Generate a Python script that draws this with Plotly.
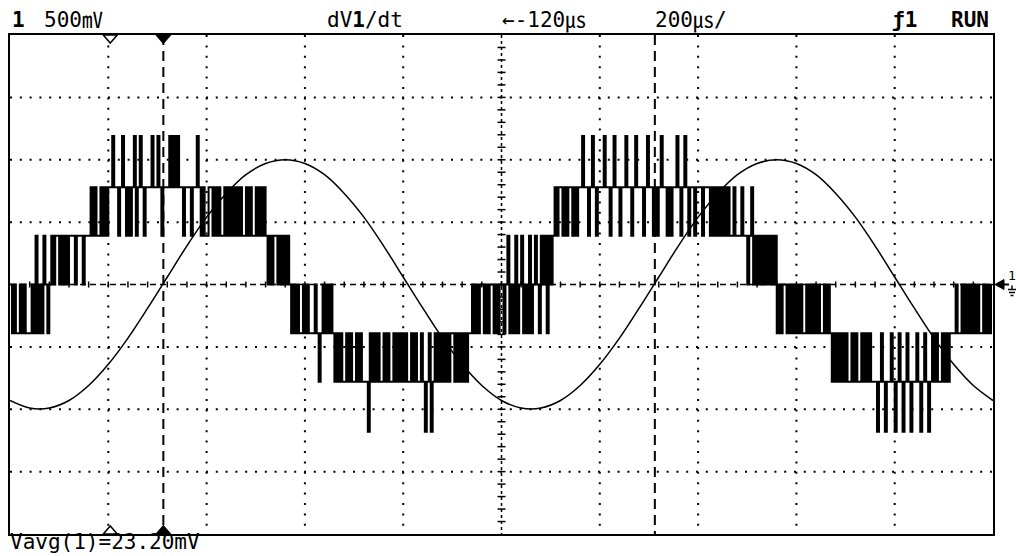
import numpy as np
import plotly.graph_objects as go

# ---- scope settings -------------------------------------------------------
T_DIV_US = 200.0            # time base (µs/div)
DELAY_US = -120.0           # time at screen centre (µs)
V_DIV = 0.5                 # channel 1 sensitivity (V/div)
N_XDIV, N_YDIV = 10, 8

T_LEFT = DELAY_US - N_XDIV / 2 * T_DIV_US      # -1120 µs
T_RIGHT = DELAY_US + N_XDIV / 2 * T_DIV_US     #   880 µs
V_TOP = N_YDIV / 2 * V_DIV
V_BOT = -V_TOP

# ---- channel 1 record: one code per 4 µs sample from the left edge ---------
SAMPLE_US = 4.0
# output level for codes '0'..'6'  (three steps below / above ground)
STEP_LEVELS_V = [-1.18, -0.78, -0.39, 0.0, 0.39, 0.78, 1.19]
CH1_CODES = [
    "3232232322", "2324232432", "3434434343", "4443444344", "4545445454",
    "5565545654", "5456456545", "5565565455", "5656565545", "5545565454",
    "4554545445", "4545454544", "5454454545", "4343443434", "3432323223",
    "2322232123", "2323212121", "1212112121", "1102121211", "2121121212",
    "1211212112", "1012012121", "2121221212", "1212232323", "3232332323",
    "3234232423", "4232423432", "4342434545", "5454554545", "5655456545",
    "5565545655", "4556554565", "5545655454", "5655454556", "5456545545",
    "5545554545", "4545454454", "4454434534", "3434343434", "2323323232",
    "3232232323", "2322323212", "1212121121", "2112121211", "1012101121",
    "0121012101", "1210121012", "1211212122", "2322323232", "3232232323",
]

# ---- dV1/dt math trace, one value per 40 µs from the left edge -------------
DVDT_STEP_US = 40.0
DVDT_V = [
    -0.93, -0.99, -0.99, -0.93, -0.81, -0.64, -0.43, -0.19, 0.06, 0.31,
    0.54, 0.73, 0.88, 0.97, 1.00, 0.97, 0.88, 0.73, 0.54, 0.31,
    0.06, -0.19, -0.43, -0.64, -0.81, -0.93, -0.99, -0.99, -0.93, -0.81,
    -0.64, -0.43, -0.19, 0.06, 0.31, 0.54, 0.73, 0.88, 0.97, 1.00,
    0.97, 0.88, 0.73, 0.54, 0.31, 0.06, -0.19, -0.43, -0.64, -0.81,
    -0.93,
]

# ---- markers ---------------------------------------------------------------
CURSOR_T_US = [-808.0, 192.0]     # time cursors (1 ms apart)
TRIG_MARK_T_US = -916.0           # hollow reference markers

# ---- page geometry ---------------------------------------------------------
W, H = 1016, 556
PL, PR, PT, PB = 10, 993, 35, 534          # plot box in pixels
US_PER_PX = (T_RIGHT - T_LEFT) / (PR - PL)
V_PER_PX = (V_TOP - V_BOT) / (PB - PT)


def xp(px):
    return (px - PL) / (PR - PL)


def yp(py):
    return (PB - py) / (PB - PT)


codes = "".join(CH1_CODES)
ch1_t = T_LEFT + SAMPLE_US * np.arange(len(codes))
ch1_v = [STEP_LEVELS_V[int(c)] for c in codes]
dvdt_t = T_LEFT + DVDT_STEP_US * np.arange(len(DVDT_V))

fig = go.Figure()
fig.add_trace(go.Scatter(
    x=ch1_t, y=ch1_v, mode="lines",
    line=dict(shape="hv", width=2, color="black"),
    hoverinfo="skip"))
fig.add_trace(go.Scatter(
    x=dvdt_t, y=DVDT_V, mode="lines",
    line=dict(shape="spline", smoothing=1.0, width=1.5, color="black"),
    hoverinfo="skip"))

shapes = []
BLK = "black"

# dotted graticule rows / columns
for k in range(1, N_YDIV // 2):
    for v in (k * V_DIV, -k * V_DIV):
        shapes.append(dict(type="line", xref="x", yref="y", layer="below",
                           x0=T_LEFT, x1=T_RIGHT, y0=v, y1=v,
                           line=dict(color=BLK, width=2, dash="2px,7.8px")))
for k in range(1, N_XDIV // 2):
    for t in (DELAY_US + k * T_DIV_US, DELAY_US - k * T_DIV_US):
        shapes.append(dict(type="line", xref="x", yref="y", layer="below",
                           x0=t, x1=t, y0=V_TOP, y1=V_BOT,
                           line=dict(color=BLK, width=2, dash="2px,8.4px")))

# centre axes with minor ticks
shapes.append(dict(type="line", xref="x", yref="y", layer="below",
                   x0=T_LEFT, x1=T_RIGHT, y0=0, y1=0,
                   line=dict(color=BLK, width=1.5, dash="6px,4px")))
shapes.append(dict(type="line", xref="x", yref="y", layer="below",
                   x0=DELAY_US, x1=DELAY_US, y0=V_TOP, y1=V_BOT,
                   line=dict(color=BLK, width=1.5, dash="3px,3px")))
for i in range(1, N_XDIV * 5):
    t = T_LEFT + i * T_DIV_US / 5
    shapes.append(dict(type="line", xref="x", yref="y", layer="below",
                       x0=t, x1=t, y0=-3 * V_PER_PX, y1=3 * V_PER_PX,
                       line=dict(color=BLK, width=1.5)))
for i in range(1, N_YDIV * 5):
    v = V_BOT + i * V_DIV / 5
    shapes.append(dict(type="line", xref="x", yref="y", layer="below",
                       x0=DELAY_US - 4 * US_PER_PX, x1=DELAY_US + 4 * US_PER_PX,
                       y0=v, y1=v, line=dict(color=BLK, width=1.5)))

# time cursors
for t in CURSOR_T_US:
    shapes.append(dict(type="line", xref="x", yref="y", layer="below",
                       x0=t, x1=t, y0=V_TOP, y1=V_BOT,
                       line=dict(color=BLK, width=2, dash="10px,6px")))


def tri(t, edge, down, filled):
    hw, hh = 7 * US_PER_PX, 8 * V_PER_PX
    tip = edge - hh if down else edge + hh
    path = f"M{t - hw},{edge} L{t + hw},{edge} L{t},{tip} Z"
    return dict(type="path", xref="x", yref="y", path=path,
                fillcolor=BLK if filled else "white",
                line=dict(color=BLK, width=1.5))


shapes.append(tri(CURSOR_T_US[0], V_TOP, True, True))
shapes.append(tri(CURSOR_T_US[0], V_BOT, False, True))
shapes.append(tri(TRIG_MARK_T_US, V_TOP, True, False))
shapes.append(tri(TRIG_MARK_T_US, V_BOT, False, False))

# channel 1 ground reference marker on the right edge
gy = yp(PB - (0 - V_BOT) / V_PER_PX)
ppy = 1 / (PB - PT)
shapes.append(dict(type="path", xref="paper", yref="paper",
                   path=(f"M{xp(995)},{gy} L{xp(1004)},{gy + 5 * ppy} "
                         f"L{xp(1004)},{gy - 5 * ppy} Z"),
                   fillcolor=BLK, line=dict(color=BLK, width=1)))
shapes.append(dict(type="line", xref="paper", yref="paper",
                   x0=xp(1003), x1=xp(1009), y0=gy, y1=gy,
                   line=dict(color=BLK, width=2)))
for dy, half in ((5, 4), (8, 3), (11, 1.5)):
    shapes.append(dict(type="line", xref="paper", yref="paper",
                       x0=xp(1012 - half), x1=xp(1012 + half),
                       y0=gy - dy * ppy, y1=gy - dy * ppy,
                       line=dict(color=BLK, width=1.5)))
shapes.append(dict(type="line", xref="paper", yref="paper",
                   x0=xp(1012), x1=xp(1012), y0=gy - 1 * ppy, y1=gy - 5 * ppy,
                   line=dict(color=BLK, width=1.5)))

FONT = "DejaVu Sans Mono, Noto Sans CJK JP, monospace"


def label(text, px, py, size=21, anchor="left"):
    return dict(text=text, x=xp(px), y=yp(py), xref="paper", yref="paper",
                xanchor=anchor, yanchor="middle", showarrow=False,
                font=dict(family=FONT, size=size, color=BLK))


annotations = [
    label("<b>1</b>", 10, 20.5),
    label("500㎷", 42, 20.5),
    label("dV<b>1</b>/dt", 325, 20.5),
    label("←-120㎲", 500, 20.5),
    label("200㎲/", 653, 20.5),
    label("<b>ƒ1</b>", 890, 20.5),
    label("<b>RUN</b>", 991, 20.5, anchor="right"),
    label("Vavg(1)=23.20mV", 8, 542, size=21),
    label("1", 1012, 275, size=13, anchor="center"),
]

fig.update_layout(
    width=W, height=H,
    margin=dict(l=PL, r=W - PR, t=PT, b=H - PB, pad=0),
    paper_bgcolor="white", plot_bgcolor="white",
    showlegend=False, hovermode=False,
    shapes=shapes, annotations=annotations,
    xaxis=dict(range=[T_LEFT, T_RIGHT], showgrid=False, zeroline=False,
               showticklabels=False, ticks="", showline=True, mirror=True,
               linecolor=BLK, linewidth=2, fixedrange=True),
    yaxis=dict(range=[V_BOT, V_TOP], showgrid=False, zeroline=False,
               showticklabels=False, ticks="", showline=True, mirror=True,
               linecolor=BLK, linewidth=2, fixedrange=True),
)

fig.write_html("out.html")
